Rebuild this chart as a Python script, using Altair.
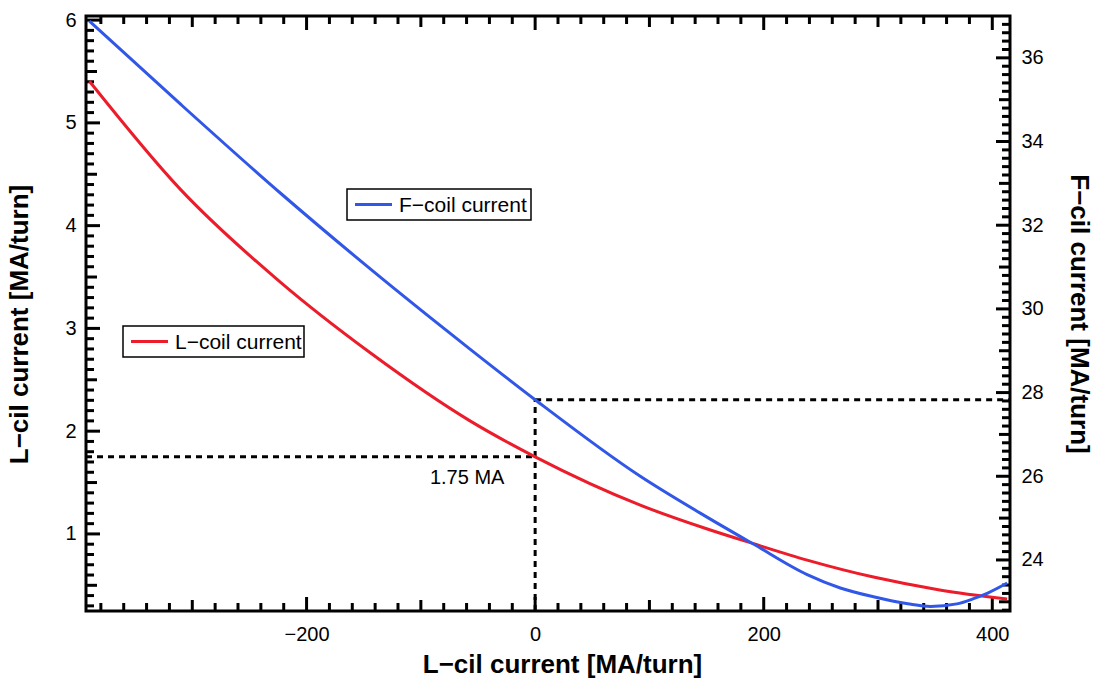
import altair as alt
import pandas as pd

FONT = "Liberation Sans"
RED = "#ec1c2a"
BLUE = "#3157e8"

# ---------------- data ----------------
l_x = [-390, -311, -223, -144, -57, 0, 92, 150, 191, 238, 296, 354, 413]
l_val = [5.405, 4.36, 3.45, 2.76, 2.10, 1.75, 1.28, 1.05, 0.905, 0.745, 0.58, 0.455, 0.366]

f_x = [-390, -311, -223, -144, -57, 0, 92, 150, 191, 238, 267, 296, 326, 346, 369, 383, 396, 413]
f_val = [36.88, 34.91, 32.77, 30.95, 29.04, 27.83, 26.0, 25.03, 24.38, 23.65, 23.33, 23.12,
         22.955, 22.89, 22.95, 23.07, 23.21, 23.45]

series_names = ["L\u2212coil current", "F\u2212coil current"]

x_labels = [-200, 0, 200, 400]
l_labels = [1, 2, 3, 4, 5, 6]
f_labels = [24, 26, 28, 30, 32, 34, 36]

x_minor = list(range(-380, 401, 20))
l_minor = [round(0.3 + 0.1 * i, 1) for i in range(58)]
f_minor = [round(22.8 + 0.2 * i, 1) for i in range(71)]

x_domain = [-393, 415.5]
l_domain = [0.25, 6.04]
f_domain = [22.78, 37.0]

ref_x = 0
ref_l = 1.75
ref_f = 27.83
ann_text = ["1.75 MA"]
ann_x = [-59.5]
ann_y = [1.546]

W, H = 924, 595


def xs():
    return alt.Scale(domain=x_domain, nice=False, zero=False)


def ls():
    return alt.Scale(domain=l_domain, nice=False, zero=False)


def fs():
    return alt.Scale(domain=f_domain, nice=False, zero=False)


df_l = pd.DataFrame({"x": l_x, "y": l_val})
df_f = pd.DataFrame({"x": f_x, "y": f_val})

red = alt.Chart(df_l).mark_line(strokeWidth=3, interpolate="monotone", color=RED).encode(
    x=alt.X("x:Q", scale=xs(), axis=alt.Axis(
        orient="bottom", values=x_labels, ticks=False, domain=False, grid=False,
        labelFont=FONT, labelFontSize=20, labelPadding=13, labelFlush=False,
        title="L\u2212cil current [MA/turn]", titleFont=FONT, titleFontSize=26,
        titleFontWeight="bold", titlePadding=7, titleX=476)),
    y=alt.Y("y:Q", scale=ls(), axis=alt.Axis(
        orient="left", values=l_labels, ticks=False, domain=False, grid=False,
        labelFont=FONT, labelFontSize=20, labelPadding=10,
        title="L\u2212cil current [MA/turn]", titleFont=FONT, titleFontSize=26,
        titleFontWeight="bold", titlePadding=32, titleY=308)),
)

blue = alt.Chart(df_f).mark_line(strokeWidth=3, interpolate="monotone", color=BLUE).encode(
    x=alt.X("x:Q", scale=xs(), axis=None),
    y=alt.Y("y:Q", scale=fs(), axis=alt.Axis(
        orient="right", values=f_labels, ticks=False, domain=False, grid=False,
        labelFont=FONT, labelFontSize=20, labelPadding=11,
        title="F\u2212cil current [MA/turn]", titleFont=FONT, titleFontSize=26,
        titleFontWeight="bold", titlePadding=22)),
)

dash = dict(strokeDash=[6, 5], strokeWidth=3, color="black")

h_left = alt.Chart(pd.DataFrame({"x1": [x_domain[0]], "x2": [ref_x], "y": [ref_l]})).mark_rule(**dash).encode(
    x=alt.X("x1:Q", scale=xs(), axis=None), x2="x2:Q",
    y=alt.Y("y:Q", scale=ls(), axis=None))

v_mid = alt.Chart(pd.DataFrame({"x": [ref_x], "y1": [f_domain[0]], "y2": [ref_f]})).mark_rule(**dash).encode(
    x=alt.X("x:Q", scale=xs(), axis=None),
    y=alt.Y("y1:Q", scale=fs(), axis=None), y2="y2:Q")

h_right = alt.Chart(pd.DataFrame({"x1": [ref_x], "x2": [x_domain[1]], "y": [ref_f]})).mark_rule(**dash).encode(
    x=alt.X("x1:Q", scale=xs(), axis=None), x2="x2:Q",
    y=alt.Y("y:Q", scale=fs(), axis=None))

ann = alt.Chart(pd.DataFrame({"x": ann_x, "y": ann_y, "t": ann_text})).mark_text(
    font=FONT, fontSize=20, color="black", align="center", baseline="middle").encode(
    x=alt.X("x:Q", scale=xs(), axis=None),
    y=alt.Y("y:Q", scale=ls(), axis=None), text="t:N")

# ---------------- inward ticks ----------------
x_len = "datum.v % 200 == 0 ? 14 : (datum.v % 100 == 0 ? 11 : 8)"
l_len = "round(datum.v*10) % 10 == 0 ? 14 : (round(datum.v*10) % 5 == 0 ? 11 : 8)"
f_len = "round(datum.v*10) % 20 == 0 ? 14 : (round(datum.v*10) % 10 == 0 ? 11 : 8)"
tick_style = dict(color="black", strokeWidth=3)

bottom_ticks = alt.Chart(pd.DataFrame({"v": x_minor})).transform_calculate(
    len=x_len).transform_calculate(p0=str(H), p1=f"{H} - datum.len").mark_rule(**tick_style).encode(
    x=alt.X("v:Q", scale=xs(), axis=None),
    y=alt.Y("p0:Q", scale=None, axis=None), y2="p1:Q")

top_ticks = alt.Chart(pd.DataFrame({"v": x_minor})).transform_calculate(
    len=x_len).transform_calculate(p0="0", p1="datum.len").mark_rule(**tick_style).encode(
    x=alt.X("v:Q", scale=xs(), axis=None),
    y=alt.Y("p0:Q", scale=None, axis=None), y2="p1:Q")

left_ticks = alt.Chart(pd.DataFrame({"v": l_minor})).transform_calculate(
    len=l_len).transform_calculate(p0="0", p1="datum.len").mark_rule(**tick_style).encode(
    y=alt.Y("v:Q", scale=ls(), axis=None),
    x=alt.X("p0:Q", scale=None, axis=None), x2="p1:Q")

right_ticks = alt.Chart(pd.DataFrame({"v": f_minor})).transform_calculate(
    len=f_len).transform_calculate(p0=str(W), p1=f"{W} - datum.len").mark_rule(**tick_style).encode(
    y=alt.Y("v:Q", scale=fs(), axis=None),
    x=alt.X("p0:Q", scale=None, axis=None), x2="p1:Q")

frame = alt.Chart(pd.DataFrame({"k": [0]})).mark_rect(
    fillOpacity=0, stroke="black", strokeWidth=3).encode(
    x=alt.value(0), x2=alt.value(W), y=alt.value(0), y2=alt.value(H))


# ---------------- legend boxes (drawn as guide decorations) ----------------
def legend_box(name, color, bx, by, bw, bh):
    base = alt.Chart(pd.DataFrame({"name": [name]}))
    box = base.mark_rect(fill="white", stroke="black", strokeWidth=1.5).encode(
        x=alt.value(bx), x2=alt.value(bx + bw), y=alt.value(by), y2=alt.value(by + bh))
    sym = base.mark_rule(color=color, strokeWidth=3).encode(
        x=alt.value(bx + 8), x2=alt.value(bx + 45), y=alt.value(by + bh / 2))
    lab = base.mark_text(font=FONT, fontSize=21, color="black", align="left",
                         baseline="middle").encode(
        x=alt.value(bx + 52), y=alt.value(by + bh / 2 + 1), text="name:N")
    return [box, sym, lab]


leg_l = legend_box(series_names[0], RED, 37, 310, 181, 31)
leg_f = legend_box(series_names[1], BLUE, 261, 173, 184, 31)

chart = alt.layer(
    bottom_ticks, top_ticks, left_ticks, right_ticks,
    h_left, v_mid, h_right, ann, red, blue, frame, *leg_l, *leg_f,
).resolve_scale(
    x="independent", y="independent"
).properties(
    width=W, height=H,
    autosize=alt.AutoSizeParams(type="none"),
    padding={"left": 86, "top": 16, "right": 92, "bottom": 73},
).configure_view(
    stroke=None
).configure_axis(
    labelColor="black", titleColor="black"
).configure(background="white")

chart.save("out.html", embed_options={"renderer": "svg", "actions": False})
